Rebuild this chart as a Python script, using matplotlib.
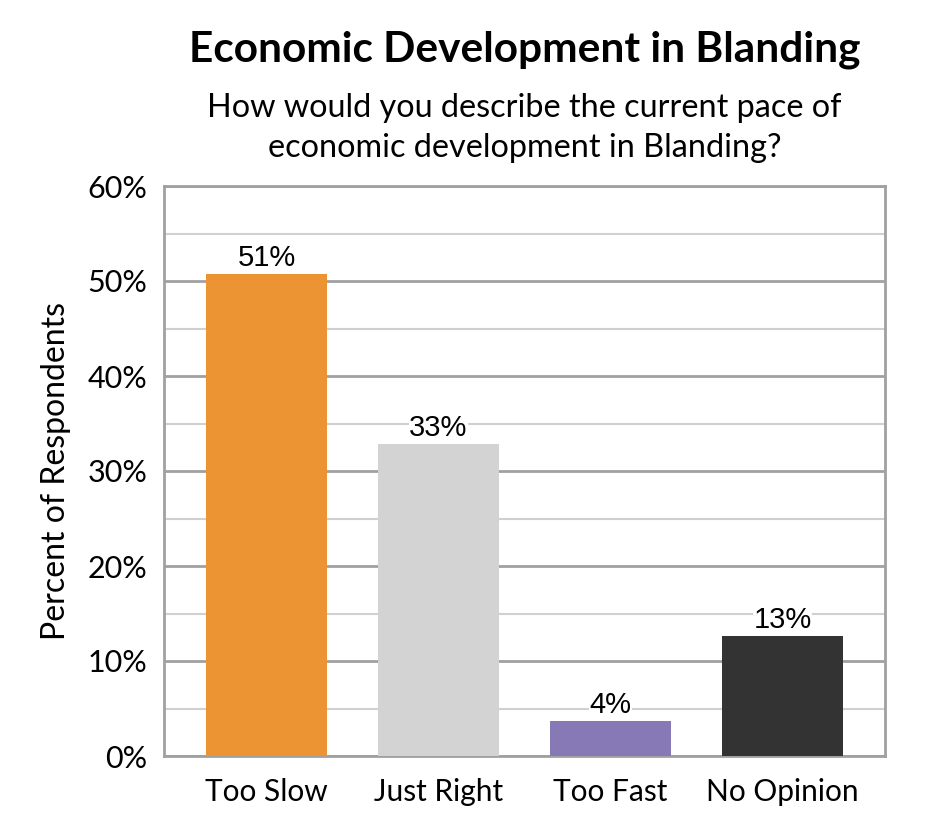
import matplotlib
matplotlib.use("Agg")
import matplotlib.pyplot as plt
from matplotlib.ticker import MultipleLocator, FuncFormatter

categories = ["Too Slow", "Just Right", "Too Fast", "No Opinion"]
values = [50.7, 32.8, 3.7, 12.6]
labels = ["51%", "33%", "4%", "13%"]
colors = ["#EC9334", "#D3D3D3", "#8779B5", "#333333"]

title = "Economic Development in Blanding"
subtitle = "How would you describe the current pace of\neconomic development in Blanding?"
ylabel = "Percent of Respondents"

plt.rcParams['font.family'] = ['Lato', 'DejaVu Sans']

fig = plt.figure(figsize=(9.45, 8.4), dpi=100)
W, H = 945, 840
ax = fig.add_axes([164 / W, 1 - 756 / H, (885 - 164) / W, (756 - 186) / H])

x = list(range(len(categories)))
ax.bar(x, values, width=0.703, color=colors, zorder=3)
ax.set_xlim(-0.596, 3.596)
ax.set_ylim(0, 60)

ax.yaxis.set_major_locator(MultipleLocator(10))
ax.yaxis.set_minor_locator(MultipleLocator(5))
ax.yaxis.set_major_formatter(FuncFormatter(lambda v, p: f"{v:.0f}%"))
ax.grid(axis='y', which='major', color='#A0A0A0', linewidth=2.0, zorder=1)
ax.grid(axis='y', which='minor', color='#D0D0D0', linewidth=1.5, zorder=1)
ax.tick_params(axis='both', which='both', length=0)
ax.tick_params(axis='y', labelsize=22, pad=12)
ax.tick_params(axis='x', labelsize=21.5, pad=16)
ax.set_xticks(x)
ax.set_xticklabels(categories)
for s in ax.spines.values():
    s.set_color('#A0A0A0')
    s.set_linewidth(2)

for xi, v, lab in zip(x, values, labels):
    ax.text(xi, v + 0.2, lab, ha='center', va='bottom', fontsize=21,
            family=['Liberation Sans', 'DejaVu Sans'], zorder=4,
            bbox=dict(facecolor='white', edgecolor='none', pad=0.3))

ax.set_ylabel(ylabel, fontsize=23, labelpad=12)

cx = (164 + 885) / 2 / W
fig.text(cx, 1 - 50 / H, title, ha='center', va='center', fontsize=30.5, fontweight='bold')
fig.text(cx, 1 - 128 / H, subtitle, ha='center', va='center', fontsize=23.3, linespacing=1.38)

fig.savefig("out.png", dpi=100)
